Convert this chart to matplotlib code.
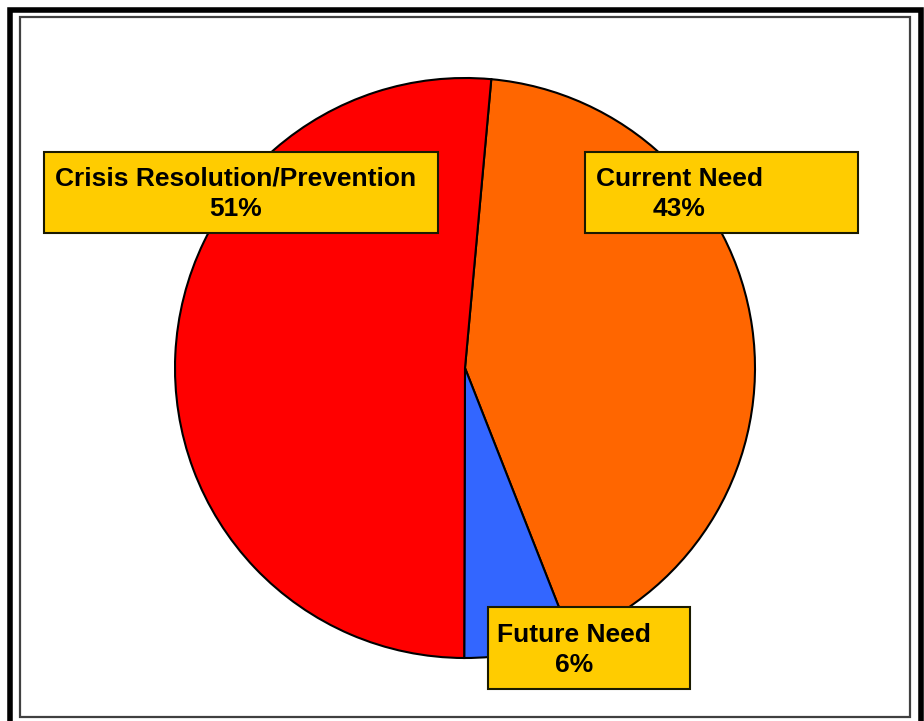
import matplotlib.pyplot as plt
import matplotlib.patches as mpatches

labels = ["Current Need", "Future Need", "Crisis Resolution/Prevention"]
values = [42.6, 6.0, 51.4]
colors = ["#FF6600", "#3366FF", "#FF0000"]

W, H = 924, 721
fig = plt.figure(figsize=(W / 100, H / 100), dpi=100)
ax = fig.add_axes([0, 0, 1, 1])

# pie in pixel coords (y up)
ax.pie(
    values,
    colors=colors,
    startangle=84.8,
    counterclock=False,
    center=(465, H - 368),
    radius=290,
    wedgeprops={"edgecolor": "black", "linewidth": 1.5},
)
ax.set_xlim(0, W)
ax.set_ylim(0, H)
ax.set_aspect("auto")
ax.axis("off")

# frame
ax.add_patch(mpatches.Rectangle((10, H - 724), 911, 714, fill=False,
                                edgecolor="black", linewidth=4, clip_on=False))
ax.add_patch(mpatches.Rectangle((19.5, H - 717), 890.5, 700, fill=False,
                                edgecolor="#404040", linewidth=1.6))

# label boxes: (left, top, right, bottom) in pixels, text centre
boxes = {
    "Crisis Resolution/Prevention": ((44, 152, 438, 233), (236, 194)),
    "Current Need": ((585, 152, 858, 233), (679, 194)),
    "Future Need": ((488, 607, 690, 689), (574, 650)),
}
for lab, val in zip(labels, values):
    (x0, y0, x1, y1), (tx, ty) = boxes[lab]
    ax.add_patch(mpatches.Rectangle((x0, H - y1), x1 - x0, y1 - y0,
                                    facecolor="#FFCC00", edgecolor="#1a1a00",
                                    linewidth=1.5))
    ax.text(tx, H - ty, f"{lab}\n{round(val)}%", ha="center", va="center",
            multialignment="center", fontsize=19, fontweight="bold",
            family="Liberation Sans", linespacing=1.32)

plt.savefig("out.png", dpi=100)
plt.close()
